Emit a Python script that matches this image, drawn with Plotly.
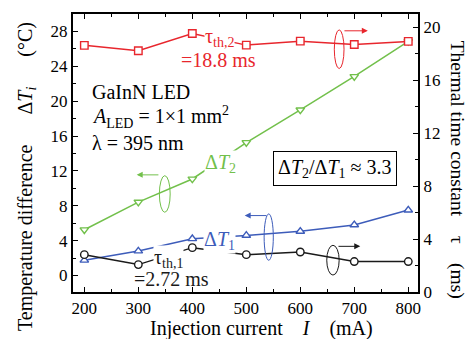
import plotly.graph_objects as go

# ---- data ----
current = [200, 300, 400, 500, 600, 700, 800]            # mA
tau_th2 = [18.63, 18.22, 19.53, 18.65, 18.95, 18.70, 18.93]  # ms (right axis)
delta_t2 = [5.24, 8.42, 11.07, 15.25, 19.0, 22.83, 26.86]    # degC (left axis)
delta_t1 = [1.74, 2.80, 4.21, 4.59, 5.06, 5.80, 7.50]        # degC (left axis)
tau_th1 = [2.82, 2.07, 3.35, 2.82, 3.02, 2.30, 2.30]         # ms (right axis)

left_ticks = [0, 4, 8, 12, 16, 20, 24, 28]
right_ticks = [0, 4, 8, 12, 16, 20]
x_ticks = [200, 300, 400, 500, 600, 700, 800]

FONT = "Liberation Serif, Times New Roman, serif"
RED = "#e8262d"
GREEN = "#72c04b"
BLUE = "#3d5cba"
BLACK = "#1a1a1a"

fig = go.Figure()


def add_series(y, color, symbol, yaxis):
    fig.add_trace(go.Scatter(
        x=current, y=y, mode="lines+markers", yaxis=yaxis,
        line=dict(color=color, width=1.5),
        marker=dict(symbol=symbol, size=7.5, color="white",
                    line=dict(color=color, width=1.4)),
        showlegend=False, hoverinfo="skip", cliponaxis=False,
    ))


add_series(tau_th2, RED, "square", "y2")
add_series(delta_t2, GREEN, "triangle-down", "y")
add_series(delta_t1, BLUE, "triangle-up", "y")
add_series(tau_th1, BLACK, "circle", "y2")

ann = []
LBL = 20


def text(x, y, s, color="black", size=LBL, yref="y", xanchor="center", bg=None, **kw):
    d = dict(x=x, y=y, xref="x", yref=yref, text=s, showarrow=False,
             font=dict(family=FONT, size=size, color=color),
             xanchor=xanchor, yanchor="middle", borderpad=0)
    if bg:
        d["bgcolor"] = bg
    d.update(kw)
    ann.append(d)


# series labels
text(451, 19.25, "τ<sub>th,2</sub>", RED, yref="y2", bg="white")
text(448, 17.55, "=18.8 ms", RED, yref="y2")
text(453, 12.8, "Δ<i>T</i><sub>2</sub>", GREEN, bg="white")
text(451, 4.05, "Δ<i>T</i><sub>1</sub>", BLUE, bg="white")
text(355, 2.55, "τ<sub>th,1</sub>", BLACK, yref="y2", bg="white")
text(362, 0.98, "=2.72 ms", BLACK, yref="y2")

# info text
text(212, 21.1, "GaInN LED", xanchor="left")
text(212, 18.15, "<i>A</i><sub>LED</sub> = 1×1 mm<sup>2</sup>", xanchor="left")
text(212, 15.2, "λ = 395 nm", xanchor="left")

# ratio box
text(664, 12.22, "Δ<i>T</i><sub>2</sub>/Δ<i>T</i><sub>1</sub> ≈ 3.3",
     bg="white", bordercolor="black", borderwidth=1, borderpad=4)


# arrows
def arrow(x_head, x_tail, y, color, yref):
    ann.append(dict(x=x_head, y=y, ax=x_tail, ay=y, xref="x", yref=yref,
                    axref="x", ayref=yref, showarrow=True, arrowhead=2,
                    arrowsize=1.2, arrowwidth=1, arrowcolor=color, text=""))


arrow(725, 679, 19.73, RED, "y2")
arrow(297, 340, 11.54, GREEN, "y")
arrow(497, 540, 6.87, BLUE, "y")
arrow(711, 668, 3.45, BLACK, "y2")

shapes = [
    dict(type="circle", xref="x", yref="y2", x0=663, x1=681, y0=16.88, y1=19.8,
         line=dict(color=RED, width=1)),
    dict(type="circle", xref="x", yref="y", x0=339, x1=359, y0=7.25, y1=11.45,
         line=dict(color=GREEN, width=1)),
    dict(type="circle", xref="x", yref="y", x0=533, x1=550, y0=1.74, y1=7.06,
         line=dict(color=BLUE, width=1)),
    dict(type="circle", xref="x", yref="y2", x0=649, x1=672, y0=1.28, y1=3.53,
         line=dict(color=BLACK, width=1)),
]

# axis titles as annotations (paper coords relative to the plot area)
TTL = 20
SP = "\u2002\u2002"
SPL = "\u2003\u2002"
ann.append(dict(x=-0.133, y=0.414, xref="paper", yref="paper", showarrow=False,
                xanchor="center", yanchor="middle",
                text="Temperature difference" + SPL + "Δ<i>T<sub>i</sub></i>" + SPL + "(°C)",
                textangle=-90, font=dict(family=FONT, size=TTL, color="black")))
ann.append(dict(x=1.113, y=0.44, xref="paper", yref="paper", showarrow=False,
                xanchor="center", yanchor="middle",
                text="Thermal time constant" + SP + "τ" + SP + "(ms)",
                textangle=90, font=dict(family=FONT, size=19.5, color="black")))
ann.append(dict(x=0.545, y=-0.132, xref="paper", yref="paper", showarrow=False,
                xanchor="center", yanchor="middle",
                text="Injection current" + SP + "<i>I</i>" + SP + "(mA)",
                font=dict(family=FONT, size=TTL, color="black")))

tickfont = dict(family=FONT, size=17, color="black")

fig.update_layout(
    width=469, height=339,
    margin=dict(l=73, r=51, t=12, b=47),
    paper_bgcolor="white", plot_bgcolor="white",
    showlegend=False,
    annotations=ann,
    shapes=shapes,
    xaxis=dict(range=[179, 818], tickvals=x_ticks, ticks="inside", ticklen=5,
               tickwidth=1.2, tickcolor="black",
               minor=dict(dtick=50, tick0=200, ticks="inside", ticklen=3, tickcolor="black"),
               showline=True, linecolor="black", linewidth=2, mirror="ticks",
               showgrid=False, zeroline=False, tickfont=tickfont),
    yaxis=dict(range=[-1.9, 30], tickvals=left_ticks, ticks="inside", ticklen=5,
               tickwidth=1.2, tickcolor="black",
               minor=dict(dtick=2, tick0=0, ticks="inside", ticklen=3, tickcolor="black"),
               showline=True, linecolor="black", linewidth=2,
               showgrid=False, zeroline=False, tickfont=tickfont),
    yaxis2=dict(range=[0, 21], tickvals=right_ticks, ticks="inside", ticklen=5,
                tickwidth=1.2, tickcolor="black",
                minor=dict(dtick=2, tick0=0, ticks="inside", ticklen=3, tickcolor="black"),
                overlaying="y", side="right",
                showline=True, linecolor="black", linewidth=2,
                showgrid=False, zeroline=False, tickfont=tickfont),
)

# remove the default page margin so the figure sits at the window origin
fig.write_html(
    "out.html",
    config={"displayModeBar": False},
    post_script="document.body.style.margin='0';document.body.style.overflow='hidden';",
)
